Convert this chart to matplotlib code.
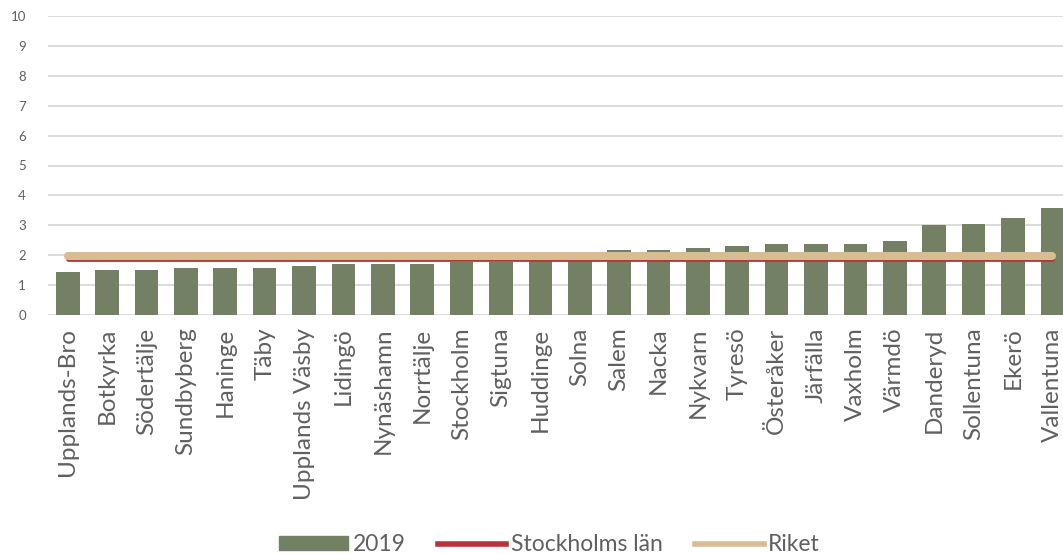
import matplotlib.pyplot as plt
from matplotlib.patches import Patch
from matplotlib.lines import Line2D

plt.rcParams['font.family'] = ['Lato', 'DejaVu Sans']

kommuner = ['Upplands-Bro', 'Botkyrka', 'Södertälje', 'Sundbyberg', 'Haninge', 'Täby',
            'Upplands Väsby', 'Lidingö', 'Nynäshamn', 'Norrtälje', 'Stockholm', 'Sigtuna',
            'Huddinge', 'Solna', 'Salem', 'Nacka', 'Nykvarn', 'Tyresö', 'Österåker',
            'Järfälla', 'Vaxholm', 'Värmdö', 'Danderyd', 'Sollentuna', 'Ekerö', 'Vallentuna']
varden_2019 = [1.43, 1.52, 1.52, 1.58, 1.58, 1.58, 1.63, 1.70, 1.70, 1.70, 1.76, 1.76,
               1.88, 1.95, 2.17, 2.17, 2.23, 2.31, 2.37, 2.37, 2.37, 2.49, 3.01, 3.04,
               3.25, 3.57]
stockholms_lan = 1.87
riket = 1.98

bar_color = '#738064'
red = '#B8323C'
tan = '#D9BD92'
text_color = '#606060'

fig = plt.figure(figsize=(10.63, 5.54), dpi=100)
ax = fig.add_axes([48 / 1063, 239 / 554, 1 - 48 / 1063, 299 / 554])

x = list(range(len(kommuner)))
ax.bar(x, varden_2019, width=0.6, color=bar_color, zorder=2)
ax.plot([x[0], x[-1]], [stockholms_lan] * 2, color=red, lw=3.4,
        solid_capstyle='round', zorder=3)
ax.plot([x[0], x[-1]], [riket] * 2, color=tan, lw=5.8,
        solid_capstyle='round', zorder=4)

ax.set_ylim(0, 10)
ax.set_yticks(range(0, 11))
ax.set_xlim(-0.5, 25.27)
ax.set_xticks(x)
ax.set_xticklabels(kommuner, rotation=90, fontsize=17.5, color=text_color)
ax.tick_params(axis='x', length=0, pad=9)
ax.tick_params(axis='y', length=0, pad=16, labelsize=9.5, labelcolor=text_color)
ax.grid(axis='y', color='#D9D9D9', lw=1.3, zorder=0)
for s in ax.spines.values():
    s.set_visible(False)

handles = [Patch(color=bar_color, label='2019'),
           Line2D([], [], color=red, lw=4, label='Stockholms län'),
           Line2D([], [], color=tan, lw=4, label='Riket')]
fig.legend(handles=handles, loc='center', bbox_to_anchor=(0.517, 0.017), ncol=3,
           frameon=False, fontsize=16.5, handlelength=3.0, handleheight=0.55,
           handletextpad=0.2, columnspacing=1.4, labelcolor=text_color)

plt.savefig('out.png', dpi=100)
